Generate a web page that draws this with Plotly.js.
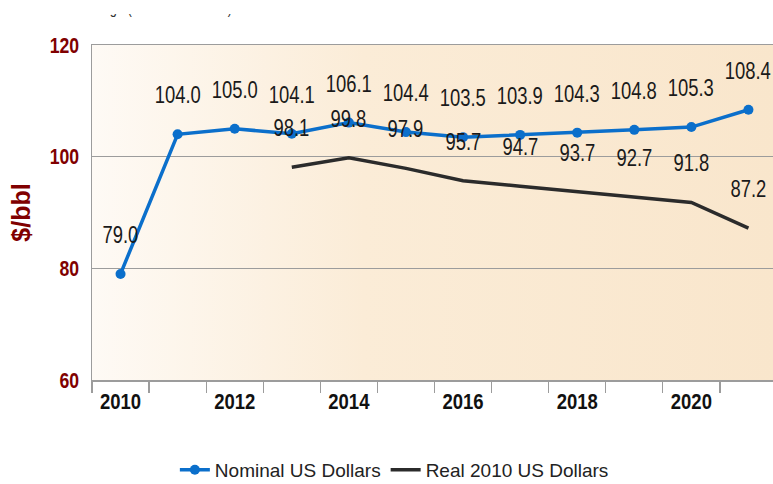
<!DOCTYPE html>
<html>
<head>
<meta charset="utf-8">
<script src="https://cdn.plot.ly/plotly-3.0.1.min.js"></script>
<style>
  html, body { margin: 0; padding: 0; background: #ffffff; }
  #chart { width: 773px; height: 484px; }
</style>
</head>
<body>
<div id="chart"></div>
<script>
// ---- data ----
const years = [2010, 2011, 2012, 2013, 2014, 2015, 2016, 2017, 2018, 2019, 2020, 2021];
const nominalUSD = [79.0, 104.0, 105.0, 104.1, 106.1, 104.4, 103.5, 103.9, 104.3, 104.8, 105.3, 108.4];
const realYears = [2013, 2014, 2015, 2016, 2017, 2018, 2019, 2020, 2021];
const real2010USD = [98.1, 99.8, 97.9, 95.7, 94.7, 93.7, 92.7, 91.8, 87.2];
const xTickVals = [2010, 2012, 2014, 2016, 2018, 2020];
const xTickText = ['2010', '2012', '2014', '2016', '2018', '2020'];
const yTickVals = [60, 80, 100, 120];
const seriesNames = ['Nominal US Dollars', 'Real 2010 US Dollars'];
const titleText = 'Average (Brent-Dubai-WTI)';

// ---- styles ----
const SANS = '"Liberation Sans", Arial, sans-serif';
const BLUE = '#0b6fcb';
const DARK = '#2b2b2b';
const RED = '#800000';
const GRID = '#9c9c9c';

const bgSvg = "<svg xmlns='http://www.w3.org/2000/svg' width='100' height='100' preserveAspectRatio='none'>" +
  "<defs><linearGradient id='g' x1='0' x2='1' y1='0' y2='0'>" +
  "<stop offset='0' stop-color='#fefaf5'/>" +
  "<stop offset='0.4' stop-color='#fbecd7'/>" +
  "<stop offset='1' stop-color='#f9e6cc'/>" +
  "</linearGradient></defs><rect width='100' height='100' fill='url(#g)'/></svg>";
const bgUri = 'data:image/svg+xml;charset=utf-8,' + encodeURIComponent(bgSvg);

const traces = [
  {
    x: years, y: nominalUSD, name: seriesNames[0],
    type: 'scatter', mode: 'lines+markers',
    line: { color: BLUE, width: 3.5 },
    marker: { color: BLUE, size: 10, symbol: 'circle' },
    hoverinfo: 'skip'
  },
  {
    x: realYears, y: real2010USD, name: seriesNames[1],
    type: 'scatter', mode: 'lines',
    line: { color: DARK, width: 3.5 },
    hoverinfo: 'skip'
  }
];

const labelFont = { family: SANS, size: 23, color: '#1a1a1a' };
const annotations = [];
years.forEach((yr, i) => {
  annotations.push({
    x: yr, y: nominalUSD[i], xref: 'x', yref: 'y',
    text: nominalUSD[i].toFixed(1), showarrow: false,
    yshift: 39, yanchor: 'middle', xanchor: 'center', font: labelFont
  });
});
realYears.forEach((yr, i) => {
  annotations.push({
    x: yr, y: real2010USD[i], xref: 'x', yref: 'y',
    text: real2010USD[i].toFixed(1), showarrow: false,
    yshift: 39, yanchor: 'middle', xanchor: 'center', font: labelFont
  });
});
// partially visible heading at the very top (cut off in the original)
annotations.push({
  x: -0.054, y: 1.0, xref: 'paper', yref: 'paper',
  xanchor: 'left', yanchor: 'bottom', yshift: 26,
  text: titleText, showarrow: false,
  font: { family: SANS, size: 16, color: '#333333' }
});
// white band covering the upper part of that heading
annotations.push({
  x: -0.2, y: 1.0, xref: 'paper', yref: 'paper',
  xanchor: 'left', yanchor: 'bottom', yshift: 31,
  text: '.', showarrow: false, width: 500, height: 40,
  bgcolor: '#ffffff', bordercolor: 'rgba(0,0,0,0)', borderpad: 0, borderwidth: 0,
  font: { family: SANS, size: 10, color: '#ffffff' }
});

const layout = {
  width: 773, height: 484,
  margin: { l: 92, r: 0, t: 45, b: 104 },
  paper_bgcolor: '#ffffff',
  plot_bgcolor: 'rgba(0,0,0,0)',
  showlegend: true,
  legend: {
    orientation: 'h', xref: 'paper', x: 0.444, xanchor: 'center',
    yref: 'container', y: 0.029, yanchor: 'middle',
    font: { family: SANS, size: 19, color: '#222222' },
    bgcolor: 'rgba(0,0,0,0)', itemwidth: 30
  },
  images: [{
    source: bgUri, xref: 'paper', yref: 'paper', x: 0, y: 1,
    sizex: 1, sizey: 1, xanchor: 'left', yanchor: 'top',
    sizing: 'stretch', layer: 'below'
  }],
  xaxis: {
    type: 'linear', range: [2009.5, 2021.43], automargin: false,
    tickmode: 'array', tickvals: xTickVals, ticktext: xTickText,
    ticks: '', ticklabelstandoff: 1, showgrid: false, zeroline: false,
    showline: true, mirror: true, linecolor: GRID, linewidth: 1.5,
    tickfont: { family: SANS, size: 22, color: '#111111', weight: 'bold' },
    minor: { tick0: 2009.5, dtick: 1, ticks: 'outside', ticklen: 11, tickwidth: 1.2, tickcolor: GRID, showgrid: false }
  },
  yaxis: {
    range: [60, 120], tickmode: 'array', tickvals: yTickVals, automargin: false,
    ticks: '', ticklabelstandoff: 7,
    showgrid: true, gridcolor: GRID, gridwidth: 1.2, zeroline: false,
    showline: true, linecolor: GRID, linewidth: 1.5,
    tickfont: { family: SANS, size: 22, color: RED, weight: 'bold' },
    title: { text: '$/bbl', standoff: 4, font: { family: SANS, size: 25, color: RED, weight: 'bold' } }
  },
  annotations: annotations
};

// condense text horizontally (the original uses a narrow typeface)
function condense(selector, factor) {
  document.querySelectorAll(selector).forEach(function (t) {
    const w = t.getComputedTextLength();
    if (w > 0) {
      t.setAttribute('textLength', (w * factor).toFixed(1));
      t.setAttribute('lengthAdjust', 'spacingAndGlyphs');
    }
  });
}

Plotly.newPlot('chart', traces, layout, { displayModeBar: false, staticPlot: true }).then(function () {
  condense('#chart .annotation-text', 0.8);
  condense('#chart g.xtick text', 0.84);
  condense('#chart g.ytick text', 0.8);
});
</script>
</body>
</html>
